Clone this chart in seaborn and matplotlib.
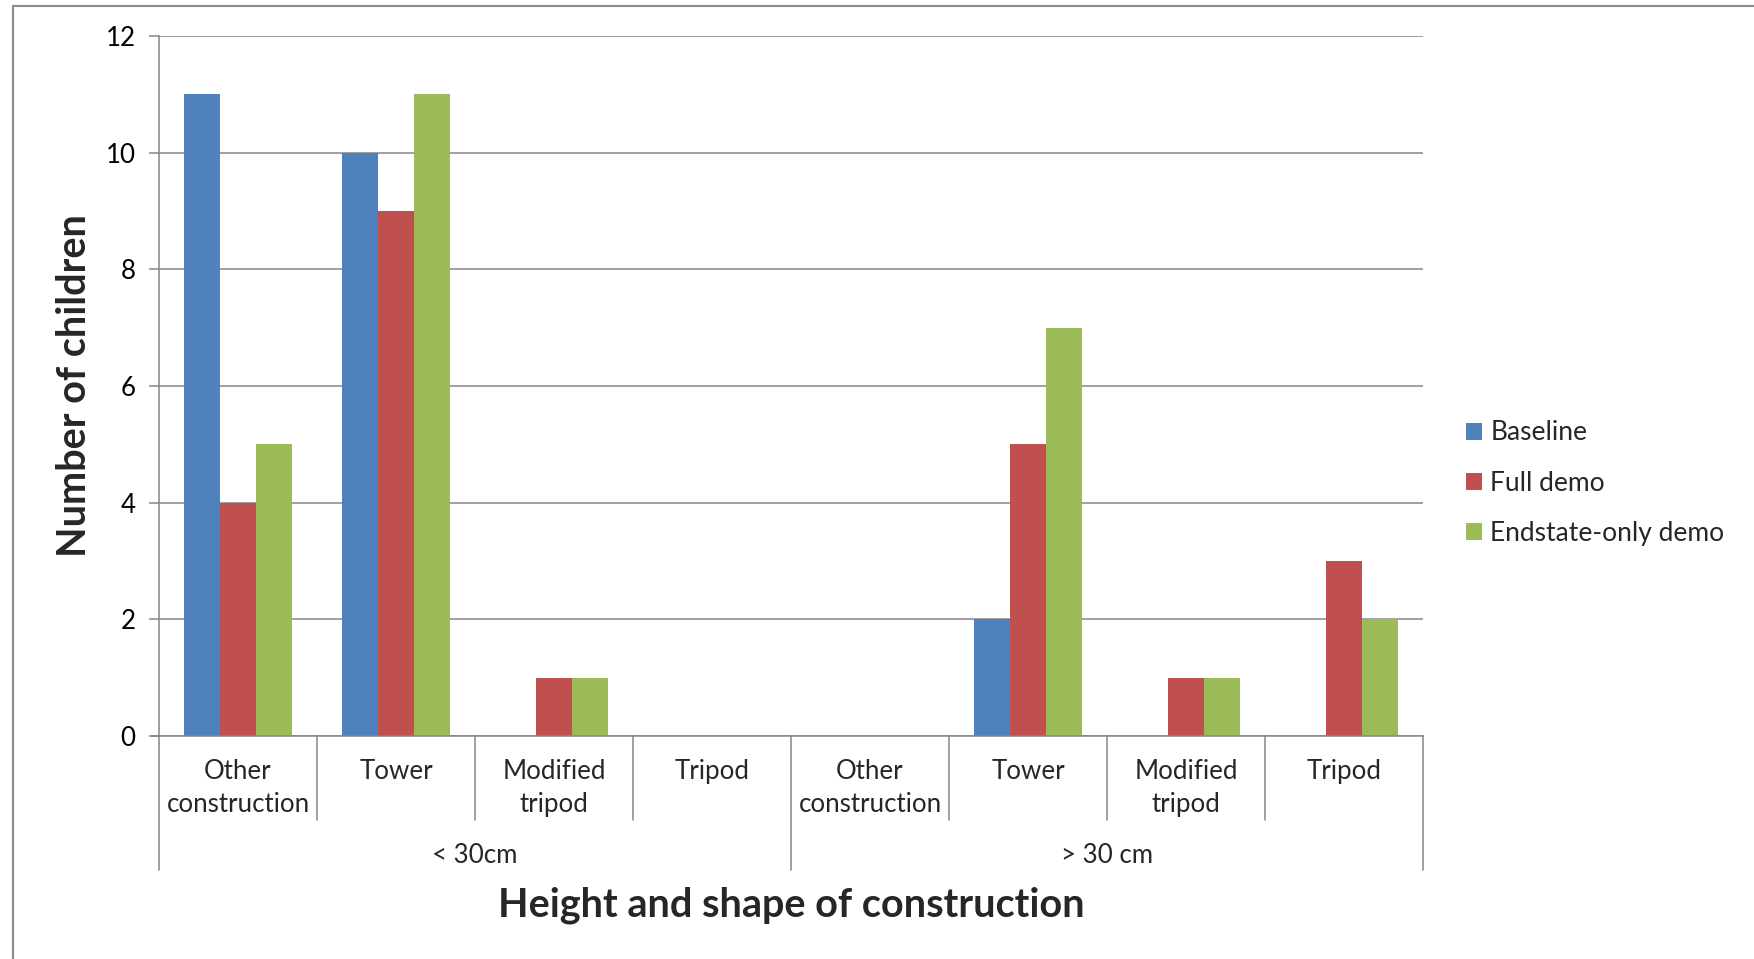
import matplotlib
matplotlib.use("Agg")
import matplotlib.pyplot as plt
from matplotlib.lines import Line2D
from matplotlib.patches import Patch
import seaborn as sns
import pandas as pd

# ---- data ----
groups = ["< 30cm", "> 30 cm"]
shapes = ["Other\nconstruction", "Tower", "Modified\ntripod", "Tripod"]
series = ["Baseline", "Full demo", "Endstate-only demo"]
baseline = [11, 10, 0, 0, 0, 2, 0, 0]
full_demo = [4, 9, 1, 0, 0, 5, 1, 3]
endstate_only = [5, 11, 1, 0, 0, 7, 1, 2]
colors = ["#4F81BD", "#C0504D", "#9BBB59"]

categories = [f"{g}|{s}" for g in groups for s in shapes]
rows = []
for name, vals in zip(series, [baseline, full_demo, endstate_only]):
    for cat, v in zip(categories, vals):
        rows.append({"category": cat, "series": name, "count": v})
df = pd.DataFrame(rows)

sns.set_style("white")
plt.rcParams["font.family"] = ["Lato", "DejaVu Sans"]

LABEL_FS = 18.6
TITLE_FS = 28.5

W, H = 1754, 959
fig = plt.figure(figsize=(W / 100, H / 100), dpi=100)
ax_l, ax_r, ax_t, ax_b = 159, 1423, 36, 736
ax = fig.add_axes([ax_l / W, 1 - ax_b / H, (ax_r - ax_l) / W, (ax_b - ax_t) / H])

sns.barplot(data=df, x="category", y="count", hue="series", order=categories,
            hue_order=series, palette=colors, width=0.68, linewidth=0,
            saturation=1, errorbar=None, ax=ax, legend=False)

grid_c = "#868686"
ax.set_ylim(0, 12)
ax.set_xlim(-0.5, len(categories) - 0.5)
ax.set_yticks(range(0, 13, 2))
ax.yaxis.grid(True, color=grid_c, linewidth=1.1)
ax.set_axisbelow(True)
for s in ["top", "right"]:
    ax.spines[s].set_visible(False)
for s in ["left", "bottom"]:
    ax.spines[s].set_color(grid_c)
    ax.spines[s].set_linewidth(1.1)
ax.tick_params(axis="y", length=7, width=1.1, color=grid_c, labelsize=LABEL_FS,
               pad=10, labelcolor="black", left=True)
ax.set_xticks([])
ax.set_xlabel("")
ax.set_ylabel("")

# multi-level category axis
tr = ax.get_xaxis_transform()
ph = ax_b - ax_t
def yfrac(py):
    return (ax_b - py) / ph

for i in range(len(categories) + 1):
    x = i - 0.5
    bottom = 870 if i % len(shapes) == 0 else 820
    ax.add_line(Line2D([x, x], [0, yfrac(bottom)], transform=tr, color=grid_c,
                       linewidth=1.1, clip_on=False))
# extend baseline left like the tick
ax.add_line(Line2D([-0.5 - 7 / 158, -0.5], [0, 0], transform=tr, color=grid_c,
                   linewidth=1.1, clip_on=False))

for i, cat in enumerate(categories):
    lines = cat.split("|")[1].split("\n")
    for j, ln in enumerate(lines):
        ax.text(i, yfrac(779 + 33 * j), ln, transform=tr, ha="center",
                va="baseline", fontsize=LABEL_FS)
for k, g in enumerate(groups):
    xc = k * len(shapes) + (len(shapes) - 1) / 2
    ax.text(xc, yfrac(863), g, transform=tr, ha="center", va="baseline",
            fontsize=LABEL_FS)

fig.text((ax_l + ax_r) / 2 / W, 1 - 916 / H, "Height and shape of construction",
         ha="center", va="baseline", fontsize=TITLE_FS, fontweight="bold")
fig.text(75 / W, 1 - 386 / H, "Number of children", ha="center", va="center",
         rotation=90, fontsize=TITLE_FS, fontweight="bold")

handles = [Patch(facecolor=c, edgecolor="none") for c in colors]
fig.legend(handles, series, loc="center left", bbox_to_anchor=(1466 / W, 1 - 483 / H),
           frameon=False, fontsize=19, handlelength=0.62, handleheight=0.62,
           handletextpad=0.3, labelspacing=0.95, borderpad=0, borderaxespad=0)

# outer chart border
fig.add_artist(Line2D([13 / W, 13 / W], [0, 1 - 6 / H], transform=fig.transFigure,
                      color="#8c8c8c", linewidth=1.5))
fig.add_artist(Line2D([13 / W, 1], [1 - 6 / H, 1 - 6 / H], transform=fig.transFigure,
                      color="#8c8c8c", linewidth=1.5))

fig.savefig("out.png", dpi=100, facecolor="white")
